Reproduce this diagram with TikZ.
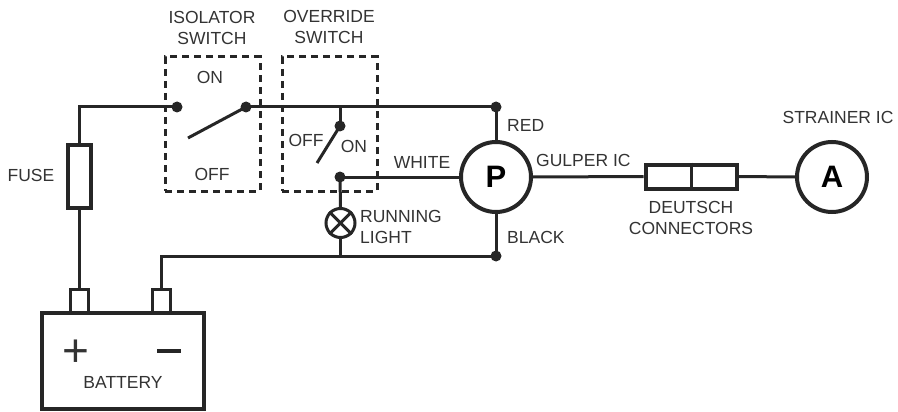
\documentclass[tikz,border=0pt]{standalone}
\usepackage{fontspec}
\setmainfont{Liberation Sans}
\usetikzlibrary{positioning}
\definecolor{inkgray}{HTML}{333333}
\tikzset{
  wire/.style={line width=3pt, black!85},
  junction/.style={circle, fill=black!85, minimum size=11pt, inner sep=0pt},
  label/.style={text=inkgray, font=\fontsize{17.5pt}{21pt}\selectfont, align=center, inner sep=0pt},
  swbox/.style={draw=black!85, line width=3pt, dash pattern=on 7pt off 5pt, minimum width=95pt, minimum height=134pt, inner sep=0pt},
  part/.style={draw=black!85, fill=white, line width=4pt, inner sep=0pt},
  device/.style={circle, draw=black!85, fill=white, line width=4pt, minimum size=70pt, inner sep=0pt, font=\fontsize{31pt}{31pt}\selectfont\bfseries},
  terminal/.style={draw=black!85, fill=white, line width=3pt, minimum width=18pt, minimum height=23pt, inner sep=0pt}
}
\begin{document}
\begin{tikzpicture}[x=1pt, y=-1pt]
  \useasboundingbox (0,0) rectangle (898,412);

  % Define nodes
  \node[swbox] (iso) at (212.5,124) {};
  \node[swbox] (ovr) at (329.5,124) {};
  \node[part, minimum width=162pt, minimum height=96pt] (batt) at (122.5,360.5) {};
  \node[terminal] (pos) at (79,300.5) {};
  \node[terminal] (neg) at (161.5,300.5) {};
  \node[part, minimum width=23pt, minimum height=63pt] (fuse) at (79,176) {};
  \node[device] (pump) at (496,177) {P};
  \node[device] (ammeter) at (832,177) {A};
  \node[part, minimum width=91pt, minimum height=24pt] (deutsch) at (691,176.5) {};

  \node[junction] (isoa) at (177,107) {};
  \node[junction] (isob) at (246,107) {};
  \node[junction] (ovra) at (340,126) {};
  \node[junction] (ovrb) at (340,177) {};
  \node[junction] (red) at (496,107) {};
  \node[junction] (black) at (496,256) {};
  \node[circle, draw=black!85, fill=white, line width=3pt, minimum size=29pt, inner sep=0pt] (lamp) at (340.5,223) {};

  \coordinate (corner) at (fuse.north |- isoa);
  \coordinate (tee) at (ovra |- isob);
  \coordinate (gnd) at (lamp |- black);
  \coordinate (isoend) at (188,138);
  \coordinate (ovrend) at (317,163);

  % Wires
  \draw[wire] (fuse.north) -- (corner) -- (isoa.center);
  \draw[wire] (isob.center) -- (red.center) -- (pump.north);
  \draw[wire] (tee) -- (ovra.center);
  \draw[wire] (isob.center) -- (isoend);
  \draw[wire] (ovra.center) -- (ovrend);
  \draw[wire] (ovrb.center) -- (pump.west);
  \draw[wire] (ovrb.center) -- (lamp.north);
  \draw[wire] (lamp.south) -- (gnd);
  \draw[wire] (fuse.south) -- (pos.north);
  \draw[wire] (neg.north) -- (neg.north |- black) -- (black.center) -- (pump.south);
  \draw[wire] (pump.east) -- (deutsch.west);
  \draw[wire] (deutsch.east) -- (ammeter.west);

  % Inner marks
  \draw[wire] (deutsch.north) -- (deutsch.south);
  \draw[wire] (lamp.north west) -- (lamp.south east);
  \draw[wire] (lamp.north east) -- (lamp.south west);

  % Labels
  \node[label] (isolbl) at (212,28) {ISOLATOR\\SWITCH};
  \node[label] (ovrlbl) at (329,27) {OVERRIDE\\SWITCH};
  \node[label] (ison) at (210,77) {ON};
  \node[label] (isoff) at (212,174) {OFF};
  \node[label] (ovroff) at (306,140) {OFF};
  \node[label] (ovron) at (354,146) {ON};
  \node[label] (fuselbl) at (31,175) {FUSE};
  \node[label] (white) at (422,162) {WHITE};
  \node[label, align=left, anchor=west] (lamplbl) at (360,227) {RUNNING\\LIGHT};
  \node[label, anchor=west] (redlbl) at (507,125) {RED};
  \node[label, anchor=west] (blacklbl) at (507,237) {BLACK};
  \node[label, anchor=west] (gulper) at (536,160) {GULPER IC};
  \node[label, below=11pt of deutsch] (conn) {DEUTSCH\\CONNECTORS};
  \node[label, above=16pt of ammeter, xshift=6pt] (strainer) {STRAINER IC};
  \node[label, font=\fontsize{46pt}{46pt}\selectfont] (plus) at (76,353) {+};
  \node[label] (minus) at (169,351) {};
  \draw[line width=4.5pt, black!85] (minus.center) ++(-12,0) coordinate (ma) -- ++(24,0) coordinate (mb);
  \node[label] (battlbl) at (123,382) {BATTERY};
\end{tikzpicture}
\end{document}
